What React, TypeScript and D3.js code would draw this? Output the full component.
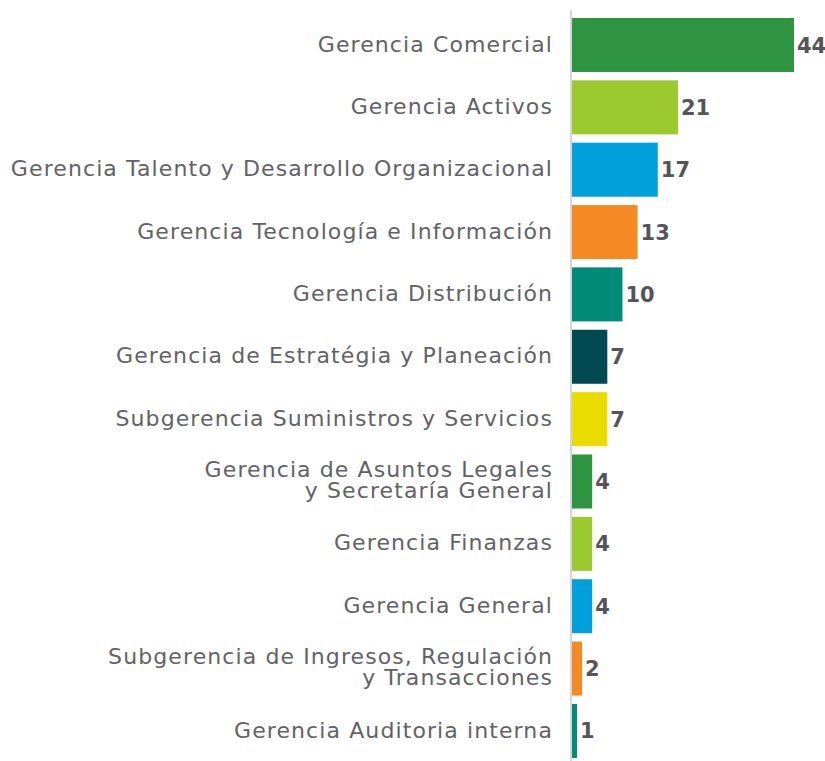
import React from "react";
import * as d3 from "d3";

const categories: string[][] = [
  ["Gerencia Comercial"],
  ["Gerencia Activos"],
  ["Gerencia Talento y Desarrollo Organizacional"],
  ["Gerencia Tecnología e Información"],
  ["Gerencia Distribución"],
  ["Gerencia de Estratégia y Planeación"],
  ["Subgerencia Suministros y Servicios"],
  ["Gerencia de Asuntos Legales", "y Secretaría General"],
  ["Gerencia Finanzas"],
  ["Gerencia General"],
  ["Subgerencia de Ingresos, Regulación", "y Transacciones"],
  ["Gerencia Auditoria interna"],
];
const values: number[] = [44, 21, 17, 13, 10, 7, 7, 4, 4, 4, 2, 1];
const colors: string[] = [
  "#2E9442", "#9ACA2E", "#00A0DC", "#F58A25", "#008B78", "#024A52",
  "#EADC00", "#2E9442", "#9ACA2E", "#00A0DC", "#F58A25", "#008B78",
];

const W = 825;
const H = 761;
const FONT = "'DejaVu Sans', sans-serif";

export default function App() {
  const ids = categories.map((_, i) => String(i));
  const x = d3.scaleLinear().domain([0, 44]).range([572, 794]);
  const y = d3
    .scaleBand<string>()
    .domain(ids)
    .range([13.8, 762.1])
    .paddingInner(0.134)
    .paddingOuter(0.067);
  const axisX = 571;
  return (
    <svg
      width={W}
      height={H}
      style={{ position: "absolute", left: 0, top: 0, background: "#fff" }}
    >
      {values.map((v, i) => {
        const yy = y(ids[i])!;
        const bw = y.bandwidth();
        const cy = yy + bw / 2;
        const lines = categories[i];
        const lh = 21;
        const off = lines.length > 1 ? -1 : 0;
        return (
          <g key={i}>
            <rect x={x(0)} y={yy} width={x(v) - x(0)} height={bw} fill={colors[i]} />
            <text
              x={x(v) + 3}
              y={cy}
              dy="0.36em"
              fontFamily={FONT}
              fontWeight={700}
              fontSize={21}
              fill="#555559"
            >
              {v}
            </text>
            {lines.map((t, j) => (
              <text
                key={j}
                x={553}
                y={cy + off + (j - (lines.length - 1) / 2) * lh}
                dy="0.3em"
                textAnchor="end"
                fontFamily={FONT}
                fontSize={22}
                letterSpacing={1.1}
                fill="#626266"
              >
                {t}
              </text>
            ))}
          </g>
        );
      })}
      <line x1={axisX} x2={axisX} y1={10} y2={H} stroke="#c8c8c8" strokeWidth={1.5} />
    </svg>
  );
}
